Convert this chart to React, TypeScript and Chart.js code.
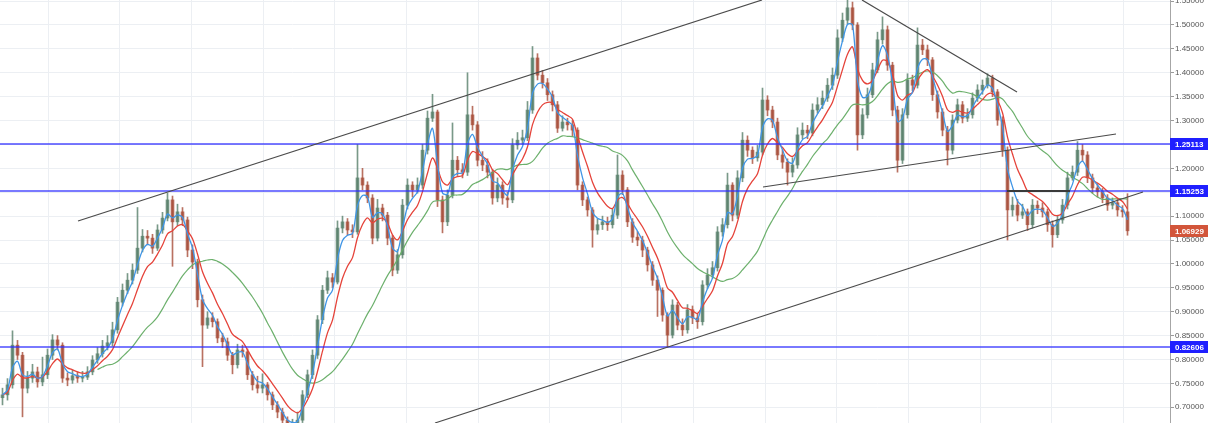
import React, { useEffect, useRef } from "react";
import { Chart, registerables } from "chart.js";

Chart.register(...registerables);

// ---- Data ----
const firstOpen = 0.72;
const closes = [
  0.726, 0.747, 0.830, 0.809, 0.740, 0.761, 0.774, 0.753, 0.768, 0.809,
  0.841, 0.830, 0.761, 0.757, 0.766, 0.761, 0.763, 0.774, 0.799, 0.812,
  0.828, 0.835, 0.862, 0.920, 0.945, 0.966, 0.987, 1.033, 1.058, 1.054,
  1.033, 1.071, 1.096, 1.134, 1.088, 1.109, 1.092, 1.029, 1.004, 0.925,
  0.872, 0.887, 0.879, 0.845, 0.837, 0.809, 0.789, 0.820, 0.816, 0.768,
  0.747, 0.740, 0.747, 0.726, 0.705, 0.690, 0.673, 0.657, 0.663, 0.673,
  0.726, 0.768, 0.809, 0.883, 0.945, 0.971, 0.962, 1.075, 1.088, 1.071,
  1.067, 1.180, 1.165, 1.138, 1.054, 1.117, 1.102, 1.054, 0.987, 1.019,
  1.123, 1.165, 1.155, 1.165, 1.238, 1.305, 1.318, 1.134, 1.088, 1.144,
  1.217, 1.197, 1.192, 1.312, 1.291, 1.217, 1.207, 1.192, 1.138, 1.165,
  1.138, 1.134, 1.249, 1.259, 1.264, 1.322, 1.431, 1.395, 1.379, 1.354,
  1.333, 1.284, 1.297, 1.291, 1.280, 1.165, 1.134, 1.113, 1.071, 1.082,
  1.088, 1.082, 1.102, 1.186, 1.155, 1.088, 1.056, 1.050, 1.029, 0.998,
  0.966, 0.945, 0.893, 0.851, 0.914, 0.872, 0.862, 0.904, 0.887, 0.879,
  0.956, 0.977, 0.992, 1.067, 1.082, 1.165, 1.102, 1.180, 1.259, 1.238,
  1.222, 1.234, 1.343, 1.322, 1.297, 1.228, 1.213, 1.192, 1.207, 1.270,
  1.280, 1.274, 1.322, 1.333, 1.347, 1.374, 1.395, 1.473, 1.510, 1.536,
  1.500, 1.270, 1.312, 1.354, 1.406, 1.469, 1.490, 1.416, 1.322, 1.217,
  1.312, 1.385, 1.374, 1.458, 1.448, 1.427, 1.354, 1.318, 1.280, 1.238,
  1.301, 1.333, 1.305, 1.312, 1.347, 1.364, 1.374, 1.389, 1.360, 1.301,
  1.238, 1.113, 1.123, 1.102, 1.109, 1.082, 1.123, 1.117, 1.109, 1.082,
  1.061, 1.092, 1.123, 1.180, 1.192, 1.238, 1.228, 1.180, 1.159, 1.151,
  1.138, 1.123, 1.128, 1.113, 1.109, 1.06929,
];
const highs = [
  0.740, 0.760, 0.860, 0.840, 0.815, 0.775, 0.790, 0.784, 0.805, 0.822,
  0.852, 0.850, 0.835, 0.772, 0.778, 0.774, 0.775, 0.785, 0.808, 0.825,
  0.840, 0.850, 0.878, 0.930, 0.958, 0.980, 1.000, 1.118, 1.072, 1.070,
  1.062, 1.082, 1.108, 1.148, 1.142, 1.125, 1.118, 1.098, 1.040, 1.010,
  0.935, 0.900, 0.898, 0.885, 0.855, 0.845, 0.815, 0.832, 0.830, 0.822,
  0.775, 0.765, 0.770, 0.752, 0.732, 0.712, 0.698, 0.680, 0.675, 0.690,
  0.735, 0.778, 0.820, 0.892, 0.955, 0.985, 0.980, 1.090, 1.100, 1.095,
  1.082, 1.250, 1.200, 1.172, 1.145, 1.135, 1.125, 1.108, 1.060, 1.030,
  1.135, 1.178, 1.172, 1.180, 1.250, 1.320, 1.355, 1.322, 1.142, 1.155,
  1.295, 1.225, 1.210, 1.400, 1.330, 1.298, 1.235, 1.220, 1.198, 1.180,
  1.172, 1.150, 1.262, 1.275, 1.280, 1.340, 1.455, 1.440, 1.405, 1.388,
  1.362, 1.340, 1.310, 1.305, 1.300, 1.285, 1.172, 1.140, 1.118, 1.095,
  1.100, 1.098, 1.115, 1.228, 1.195, 1.160, 1.095, 1.068, 1.058, 1.035,
  1.005, 0.975, 0.950, 0.898, 0.925, 0.920, 0.885, 0.915, 0.912, 0.895,
  0.965, 0.990, 1.005, 1.078, 1.095, 1.190, 1.170, 1.195, 1.275, 1.268,
  1.245, 1.248, 1.368, 1.352, 1.330, 1.305, 1.238, 1.220, 1.222, 1.285,
  1.295, 1.290, 1.335, 1.348, 1.362, 1.388, 1.410, 1.490, 1.525, 1.553,
  1.548, 1.505, 1.325, 1.368, 1.420, 1.485, 1.517, 1.498, 1.422, 1.330,
  1.325, 1.398, 1.395, 1.494, 1.470, 1.458, 1.432, 1.362, 1.325, 1.288,
  1.312, 1.345, 1.340, 1.325, 1.358, 1.375, 1.385, 1.398, 1.395, 1.365,
  1.308, 1.245, 1.140, 1.135, 1.125, 1.115, 1.135, 1.132, 1.128, 1.115,
  1.090, 1.102, 1.135, 1.192, 1.205, 1.256, 1.250, 1.235, 1.188, 1.168,
  1.158, 1.145, 1.138, 1.135, 1.122, 1.147,
];
const lows = [
  0.705, 0.715, 0.740, 0.800, 0.680, 0.730, 0.752, 0.742, 0.745, 0.760,
  0.800, 0.820, 0.752, 0.745, 0.750, 0.752, 0.753, 0.758, 0.768, 0.792,
  0.805, 0.820, 0.828, 0.855, 0.912, 0.938, 0.958, 0.980, 1.025, 1.040,
  1.022, 1.028, 1.064, 1.090, 0.995, 1.080, 1.080, 1.015, 0.990, 0.910,
  0.785, 0.865, 0.868, 0.835, 0.825, 0.798, 0.770, 0.782, 0.805, 0.758,
  0.736, 0.730, 0.730, 0.715, 0.695, 0.678, 0.662, 0.645, 0.648, 0.655,
  0.668, 0.720, 0.760, 0.802, 0.875, 0.938, 0.950, 0.958, 1.065, 1.060,
  1.055, 1.062, 1.155, 1.128, 1.042, 1.048, 1.090, 1.040, 0.975, 0.980,
  1.012, 1.115, 1.140, 1.148, 1.158, 1.230, 1.298, 1.120, 1.065, 1.080,
  1.138, 1.185, 1.180, 1.185, 1.280, 1.205, 1.195, 1.180, 1.125, 1.130,
  1.125, 1.118, 1.128, 1.240, 1.250, 1.258, 1.315, 1.385, 1.368, 1.342,
  1.320, 1.275, 1.278, 1.280, 1.268, 1.155, 1.122, 1.100, 1.035, 1.062,
  1.072, 1.070, 1.075, 1.095, 1.145, 1.078, 1.045, 1.038, 1.015, 0.985,
  0.955, 0.890, 0.880, 0.826, 0.845, 0.862, 0.850, 0.855, 0.875, 0.865,
  0.872, 0.948, 0.970, 0.985, 1.058, 1.075, 1.090, 1.095, 1.172, 1.225,
  1.210, 1.215, 1.228, 1.310, 1.285, 1.218, 1.200, 1.165, 1.182, 1.200,
  1.262, 1.262, 1.268, 1.315, 1.325, 1.340, 1.365, 1.388, 1.465, 1.502,
  1.490, 1.238, 1.262, 1.305, 1.348, 1.400, 1.460, 1.405, 1.310, 1.192,
  1.210, 1.305, 1.362, 1.368, 1.438, 1.415, 1.342, 1.305, 1.268, 1.207,
  1.230, 1.295, 1.295, 1.298, 1.305, 1.340, 1.355, 1.368, 1.350, 1.290,
  1.225, 1.050, 1.100, 1.090, 1.095, 1.070, 1.075, 1.105, 1.098, 1.068,
  1.035, 1.055, 1.085, 1.115, 1.175, 1.185, 1.215, 1.170, 1.148, 1.140,
  1.128, 1.112, 1.115, 1.100, 1.098, 1.060,
];

// Horizontal support/resistance levels
const levels = [1.25113, 1.15253, 0.82606];

// Trend lines as [candle index, price] pairs
const trendLines = [
  [[15.1, 1.0899], [151.9, 1.5523]],
  [[86.5, 0.6672], [228.1, 1.1505]],
  [[171.9, 1.5523], [202.9, 1.3598]],
  [[152.1, 1.161], [222.7, 1.2719]],
];
const rangeLine = [[200.9, 1.15253], [213.5, 1.15253]];

// Moving-average periods
const fastPeriod = 3;
const midPeriod = 7;
const slowPeriod = 20;

// Axis ranges
const yMin = 0.6671;
const yMax = 1.5523;
const yStep = 0.05;
const xMin = -0.5;
const xMax = 233.5;
const vGridStart = 9.1;
const vGridStep = 14.34;

function ema(vals: number[], n: number): number[] {
  const k = 2 / (n + 1);
  let e = vals[0];
  return vals.map((v, i) => {
    if (i === 0) return e;
    e = v * k + e * (1 - k);
    return e;
  });
}

function sma(vals: number[], n: number): (number | null)[] {
  return vals.map((_, i) => {
    if (i < n - 1) return null;
    let s = 0;
    for (let j = i - n + 1; j <= i; j++) s += vals[j];
    return s / n;
  });
}

const FONT = '"Liberation Sans", Arial, sans-serif';

const labelBoxes = {
  id: "labelBoxes",
  afterDraw(chart: any) {
    const { ctx, chartArea, scales } = chart;
    const y = scales.y;
    ctx.save();
    ctx.font = `bold 8px ${FONT}`;
    ctx.textBaseline = "middle";
    const draw = (v: number, bg: string) => {
      const py = Math.round(y.getPixelForValue(v));
      ctx.fillStyle = bg;
      ctx.fillRect(chartArea.right, py - 6, 38, 12);
      ctx.fillStyle = "#ffffff";
      ctx.fillText(v.toFixed(5), chartArea.right + 5, py + 0.5);
    };
    levels.forEach((l) => draw(l, "#1f1fff"));
    draw(closes[closes.length - 1], "#d2553a");
    ctx.restore();
  },
};

export default function App() {
  const ref = useRef<HTMLCanvasElement>(null);

  useEffect(() => {
    if (!ref.current) return;
    const opens = closes.map((c, i) => (i === 0 ? firstOpen : closes[i - 1]));
    const colors = closes.map((c, i) =>
      c >= opens[i] ? "rgba(88,128,106,0.8)" : "rgba(168,78,58,0.8)"
    );
    const fast = ema(closes, fastPeriod);
    const mid = ema(closes, midPeriod);
    const slow = sma(closes, slowPeriod);

    const lineDs = (pts: number[][], color: string, width: number, order: number) => ({
      type: "line" as const,
      data: pts.map((p) => ({ x: p[0], y: p[1] })),
      borderColor: color,
      borderWidth: width,
      pointRadius: 0,
      fill: false,
      tension: 0,
      order,
    });

    const datasets: any[] = [
      {
        type: "bar",
        data: closes.map((c, i) => ({ x: i, y: [lows[i], highs[i]] })),
        backgroundColor: colors,
        barThickness: 1,
        grouped: false,
        borderWidth: 0,
        order: 20,
      },
      {
        type: "bar",
        data: closes.map((c, i) => ({ x: i, y: [opens[i], c] })),
        backgroundColor: colors,
        barThickness: 3,
        grouped: false,
        borderWidth: 0,
        minBarLength: 1,
        order: 19,
      },
      {
        type: "line",
        data: slow
          .map((v, i) => ({ x: i, y: v }))
          .filter((p) => p.y !== null),
        borderColor: "rgba(100,172,100,0.95)",
        borderWidth: 1.2,
        pointRadius: 0,
        tension: 0.4,
        order: 12,
      },
      {
        type: "line",
        data: mid.map((v, i) => ({ x: i, y: v })),
        borderColor: "#e5433a",
        borderWidth: 1.3,
        pointRadius: 0,
        tension: 0.3,
        order: 11,
      },
      {
        type: "line",
        data: fast.map((v, i) => ({ x: i, y: v })),
        borderColor: "#3f95e6",
        borderWidth: 1.3,
        pointRadius: 0,
        tension: 0.3,
        order: 10,
      },
      ...levels.map((l) =>
        lineDs([[xMin, l], [xMax, l]], "rgba(45,45,255,0.85)", 1.5, 5)
      ),
      ...trendLines.map((t) => lineDs(t, "#4a4a4a", 1.2, 2)),
      lineDs(rangeLine, "#3a3a3a", 2, 1),
    ];

    const chart = new Chart(ref.current, {
      type: "bar",
      data: { datasets },
      plugins: [labelBoxes],
      options: {
        animation: false,
        responsive: false,
        devicePixelRatio: 1,
        layout: { padding: 0 },
        plugins: { legend: { display: false }, tooltip: { enabled: false } },
        scales: {
          x: {
            type: "linear",
            min: xMin,
            max: xMax,
            offset: false,
            grid: { color: "#eceff3", drawTicks: false, offset: false },
            border: { display: false },
            ticks: { display: false },
            afterBuildTicks: (s: any) => {
              const t: any[] = [];
              for (let v = vGridStart; v < xMax; v += vGridStep) t.push({ value: v });
              s.ticks = t;
            },
            afterFit: (s: any) => {
              s.height = 0;
              s.paddingLeft = 0;
              s.paddingRight = 0;
            },
          },
          y: {
            type: "linear",
            position: "right",
            min: yMin,
            max: yMax,
            grid: { color: "#eceff3", tickColor: "#9a9a9a", tickLength: 4 },
            border: { display: true, color: "#a6a6a6" },
            ticks: {
              stepSize: yStep,
              includeBounds: false,
              padding: 1,
              color: "#555555",
              font: { size: 8, family: FONT },
              callback: (v: any) => Number(v).toFixed(5),
            },
            afterFit: (s: any) => {
              s.width = 40;
              s.paddingTop = 0;
              s.paddingBottom = 0;
            },
          },
        },
      } as any,
    });
    return () => chart.destroy();
  }, []);

  return (
    <div style={{ position: "fixed", left: 0, top: 0, width: 1210, height: 423, background: "#fff" }}>
      <canvas ref={ref} width={1210} height={423} style={{ display: "block" }} />
    </div>
  );
}
